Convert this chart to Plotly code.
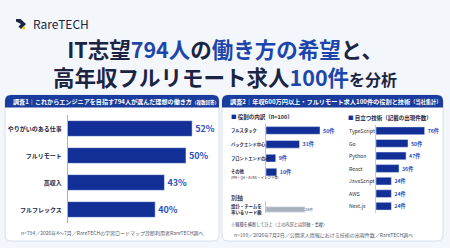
import plotly.graph_objects as go

W, H = 450, 248
FONT = "Noto Sans CJK JP"

# ---------------- data ----------------
ideal_labels = ["やりがいのある仕事", "フルリモート", "高収入", "フルフレックス"]
ideal_pct = [52, 50, 43, 40]

role_labels = ["フルスタック", "バックエンド中心", "フロントエンドのみ", "その他"]
role_counts = [50, 31, 9, 10]

lead_labels = ["設計・チームを率いるリード級"]
lead_counts = [26]

tech_labels = ["TypeScript", "Go", "Python", "React", "JavaScript", "AWS", "Next.js"]
tech_counts = [76, 50, 47, 36, 24, 24, 24]

# ---------------- colours ----------------
NAVY = "#1b2543"
BLUE = "#1c46aa"
BAR = "#122f97"
LBL = "#2c51c2"
HEAD = "#1a3c9c"
GRAYBAR = "#a9b1bf"
BG = "#f3f6fb"


def fx(p):
    return p / W


def fy(p):
    return 1 - p / H


def rr(x0, y0, x1, y1, r, top_only=False):
    rx, ry = r / W, r / H
    X0, X1, Y0, Y1 = fx(x0), fx(x1), fy(y0), fy(y1)
    p = f"M {X0+rx},{Y0} L {X1-rx},{Y0} Q {X1},{Y0} {X1},{Y0-ry} "
    if top_only:
        p += f"L {X1},{Y1} L {X0},{Y1} L {X0},{Y0-ry} "
    else:
        p += (f"L {X1},{Y1+ry} Q {X1},{Y1} {X1-rx},{Y1} L {X0+rx},{Y1} "
              f"Q {X0},{Y1} {X0},{Y1+ry} L {X0},{Y0-ry} ")
    p += f"Q {X0},{Y0} {X0+rx},{Y0} Z"
    return p


fig = go.Figure()

# ---- left chart ----
fig.add_trace(go.Bar(
    y=ideal_labels, x=ideal_pct, orientation="h", marker_color=BAR, width=0.58,
    texttemplate="<b>%{x}%</b>", textposition="outside",
    outsidetextfont=dict(size=9, color=LBL, family=FONT),
    xaxis="x", yaxis="y", hoverinfo="skip"))

# ---- roles ----
fig.add_trace(go.Bar(
    y=role_labels, x=role_counts, orientation="h", marker_color=BAR, width=0.55,
    texttemplate="<b>%{x}件</b>", textposition="outside",
    outsidetextfont=dict(size=6.3, color=LBL, family=FONT),
    xaxis="x2", yaxis="y2", hoverinfo="skip"))

# ---- lead ----
fig.add_trace(go.Bar(
    y=lead_labels, x=lead_counts, orientation="h", marker_color=GRAYBAR, width=0.75,
    texttemplate="<b>%{x}件</b>", textposition="outside",
    outsidetextfont=dict(size=6.3, color="#8c95a5", family=FONT),
    xaxis="x4", yaxis="y4", hoverinfo="skip"))

# ---- tech ----
fig.add_trace(go.Bar(
    y=tech_labels, x=tech_counts, orientation="h", marker_color=BAR, width=0.62,
    texttemplate="<b>%{x}件</b>", textposition="outside",
    outsidetextfont=dict(size=6, color=LBL, family=FONT),
    xaxis="x3", yaxis="y3", hoverinfo="skip"))

hx = dict(visible=False, showgrid=False, zeroline=False, fixedrange=True)

fig.update_layout(
    width=W, height=H, margin=dict(l=0, r=0, t=0, b=0),
    paper_bgcolor=BG, plot_bgcolor="rgba(0,0,0,0)", showlegend=False,
    font=dict(family=FONT, color=NAVY),
    bargap=0.4,
    xaxis=dict(hx, domain=[fx(68), fx(218)], range=[11.7, 11.7 + 150 / 3.08], anchor="y"),
    yaxis=dict(domain=[fy(223), fy(115)], anchor="x", autorange="reversed",
               showgrid=False, zeroline=False, showline=True, linecolor="#9fb0da", linewidth=1,
               tickvals=ideal_labels, ticktext=["<b>" + s + "</b>" for s in ideal_labels],
               tickfont=dict(size=6, color=NAVY, family=FONT), ticks="", ticklabelstandoff=4),
    xaxis2=dict(hx, domain=[fx(266), fx(342)], range=[0, 76 / 1.08], anchor="y2"),
    yaxis2=dict(domain=[fy(179), fy(123.5)], anchor="x2", autorange="reversed",
                showgrid=False, zeroline=False, showline=True, linecolor="#b8c3dd", linewidth=1,
                showticklabels=False, ticks=""),
    xaxis4=dict(hx, domain=[fx(266), fx(330)], range=[0, 64 / 1.5], anchor="y4"),
    yaxis4=dict(domain=[fy(213), fy(201)], anchor="x4",
                showgrid=False, zeroline=False, showline=True, linecolor="#b8c3dd", linewidth=1,
                showticklabels=False, ticks=""),
    xaxis3=dict(hx, domain=[fx(376), fx(443)], range=[0, 67 / 0.64], anchor="y3"),
    yaxis3=dict(domain=[fy(212.5), fy(124.5)], anchor="x3", autorange="reversed",
                showgrid=False, zeroline=False, showline=True, linecolor="#c3cbe0", linewidth=1,
                showticklabels=False, ticks=""),
)

shapes = []
# panels
for (x0, x1) in [(5, 219), (222, 443)]:
    shapes.append(dict(type="path", path=rr(x0, 95, x1, 241, 6), xref="paper", yref="paper",
                       fillcolor="white", line=dict(color="#d6deed", width=1), layer="below"))
    shapes.append(dict(type="path", path=rr(x0, 95, x1, 107.5, 6, top_only=True), xref="paper",
                       yref="paper", fillcolor=HEAD, line=dict(width=0), layer="below"))
# logo icon
pts = [(16, 19), (20.5, 19), (26, 24), (21, 29), (18.5, 26.5), (21, 24), (16, 21.5)]
shapes.append(dict(type="path", xref="paper", yref="paper",
                   path="M " + " L ".join(f"{fx(a)},{fy(b)}" for a, b in pts) + " Z",
                   fillcolor=NAVY, line=dict(width=0)))
shapes.append(dict(type="circle", xref="paper", yref="paper",
                   x0=fx(22.3), x1=fx(25.3), y0=fy(29.5), y1=fy(26.5),
                   fillcolor="#f5c400", line=dict(width=0)))
fig.update_layout(shapes=shapes)

ann = []


def T(x, y, text, size, color=NAVY, xanchor="left", xref="paper", yref="paper", yshift=0,
      align="left"):
    ann.append(dict(x=x, y=y, xref=xref, yref=yref, text=text, showarrow=False,
                    xanchor=xanchor, yanchor="middle", align=align, yshift=yshift,
                    font=dict(size=size, color=color, family=FONT)))


# logo & title
T(fx(31), fy(23.5), "RareTECH", 12, NAVY)
T(0.5, fy(62),
  f"<b>IT志望<span style='color:{BLUE}'>794人</span>の<span style='color:{BLUE}'>働き方の希望</span>と、</b><br>"
  f"<b>高年収フルリモート求人<span style='color:{BLUE}'>100件</span><span style='font-size:16px'>を分析</span></b>",
  21.5, NAVY, xanchor="center", align="center")

# headers
T(fx(11), fy(101.5),
  "<b>調査1｜これからエンジニアを目指す794人が選んだ理想の働き方<span style='font-size:4.5px'>（複数回答）</span></b>",
  6.1, "white")
T(fx(228), fy(101.5),
  "<b>調査2｜年収600万円以上・フルリモート求人100件の役割と技術<span style='font-size:5.2px'>（当社集計）</span></b>",
  6.2, "white")

# left footnote
T(fx(19), fy(233), "n=794／2026年4〜7月／RareTECHの学習ロードマップ診断利用者RareTECH調べ", 5, "#505a6c")

# right sub headers
T(fx(229), fy(117), f"<b><span style='color:{BAR}'>■</span> 役割の内訳（n=100）</b>", 5.5, NAVY)
T(fx(346), fy(118), f"<b><span style='color:{BAR}'>■</span> 目立つ技術（記載の出現件数）</b>", 5.5, NAVY)

# role labels
for lab in role_labels:
    if lab == "その他":
        T(fx(229), lab, "<b>その他</b><br><span style='font-size:3.4px'>(PM・QA・AI/ML・インフラ等)</span>",
          4.3, NAVY, yref="y2", yshift=-2)
    else:
        T(fx(229), lab, "<b>" + lab + "</b>", 4.3, NAVY, yref="y2")

# 別軸
T(fx(229), fy(197), "<b>別軸</b>", 6, "#4a5161")
for lab in lead_labels:
    T(fx(229), lab, "<b>設計・チームを<br>率いるリード級</b>", 4.4, NAVY, yref="y4")
T(fx(229), fy(224), "※職種を横断して計上（上の内訳とは別軸・重複）", 4.2, "#3d4455")
T(fx(232), fy(235), "n=100／2026年7月2日／公開求人情報における技術の出現件数／RareTECH調べ", 5, "#505a6c")

# tech labels
for lab in tech_labels:
    T(fx(347), lab, lab, 5.2, "#2a2f3d", yref="y3")

fig.update_layout(annotations=ann)
fig.write_html("out.html")
